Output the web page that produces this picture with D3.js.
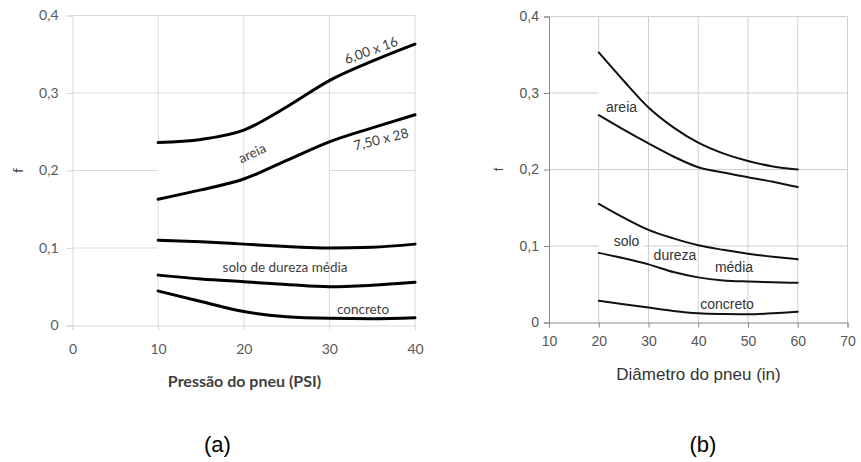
<!DOCTYPE html>
<html><head><meta charset="utf-8">
<script src="https://cdn.jsdelivr.net/npm/d3@7"></script>
<style>body{margin:0;background:#fff}svg{display:block}</style>
</head><body>
<svg id="c" width="861" height="462"></svg>
<script>
// ---- Chart (a) data ----
const pressX = [10, 15, 20, 25, 30, 35, 40];
const a_areia600x16 = [0.236, 0.240, 0.252, 0.282, 0.316, 0.341, 0.363];
const a_areia750x28 = [0.163, 0.175, 0.189, 0.213, 0.237, 0.255, 0.272];
const a_soloTop = [0.110, 0.108, 0.105, 0.102, 0.100, 0.101, 0.105];
const a_soloBottom = [0.065, 0.060, 0.0565, 0.053, 0.050, 0.052, 0.0557];
const a_concreto = [0.0445, 0.031, 0.018, 0.0114, 0.0093, 0.0088, 0.010];
const aXTicks = [0, 10, 20, 30, 40];
const yTicks = [0, 0.1, 0.2, 0.3, 0.4];

// ---- Chart (b) data ----
const diamX = [20, 25, 30, 35, 40, 45, 50, 55, 60];
const b_areiaTop = [0.353, 0.316, 0.281, 0.255, 0.235, 0.221, 0.211, 0.204, 0.200];
const b_areiaBottom = [0.271, 0.252, 0.234, 0.217, 0.203, 0.196, 0.190, 0.184, 0.177];
const b_soloTop = [0.155, 0.137, 0.121, 0.110, 0.101, 0.095, 0.090, 0.086, 0.0826];
const b_soloBottom = [0.091, 0.084, 0.076, 0.066, 0.059, 0.055, 0.0535, 0.0525, 0.052];
const b_concreto = [0.0285, 0.024, 0.0195, 0.015, 0.012, 0.011, 0.0107, 0.012, 0.014];
const bXTicks = [10, 20, 30, 40, 50, 60, 70];

// gridline segments (data units) – parts hidden behind the original's label patches
const aHGrid = [[0.1, 0, 10], [0.2, 0, 10], [0.2, 30, 40], [0.3, 0, 40], [0.4, 0, 40]];
const aVGrid = [[10, 0, 0.065], [10, 0.11, 0.163], [10, 0.236, 0.4], [20, 0, 0.4], [30, 0, 0.4], [40, 0, 0.4]];
const bHGrid = [[0.1, 10, 20], [0.1, 29, 70], [0.2, 10, 70], [0.3, 10, 20], [0.3, 29.5, 70], [0.4, 10, 70]];
const bVGrid = [[20, 0, 0.091], [20, 0.155, 0.271], [20, 0.353, 0.4], [30, 0, 0.4], [40, 0, 0.4], [50, 0, 0.4], [60, 0, 0.4], [70, 0, 0.4]];

const svg = d3.select("#c");

// ================= Chart (a) =================
(function(){
  const fa = "Lato, 'Open Sans', sans-serif";
  const x = d3.scaleLinear().domain([0, 40]).range([72.5, 415]);
  const y = d3.scaleLinear().domain([0, 0.4]).range([325.5, 15.5]);
  const g = svg.append("g");
  const grid = "#d9d9d9";
  g.selectAll(".hg").data(aHGrid).join("line")
    .attr("x1", d => x(d[1])).attr("x2", d => x(d[2]))
    .attr("y1", d => y(d[0])).attr("y2", d => y(d[0]))
    .attr("stroke", grid).attr("stroke-width", 1);
  g.selectAll(".vg").data(aVGrid).join("line")
    .attr("x1", d => x(d[0])).attr("x2", d => x(d[0]))
    .attr("y1", d => y(d[1])).attr("y2", d => y(d[2]))
    .attr("stroke", grid).attr("stroke-width", 1);
  const yAx = g.append("g").attr("transform", `translate(${x(0)},0)`)
    .call(d3.axisLeft(y).tickValues(yTicks).tickSize(6).tickPadding(8)
      .tickFormat(d => d === 0 ? "0" : d3.format(".1f")(d).replace(".", ",")));
  const xAx = g.append("g").attr("transform", `translate(0,${y(0)})`)
    .call(d3.axisBottom(x).tickValues(aXTicks).tickSize(5).tickPadding(14));
  [yAx, xAx].forEach(a => {
    a.select(".domain").attr("stroke", grid);
    a.selectAll(".tick line").attr("stroke", grid);
    a.selectAll("text").attr("fill", "#595959").style("font-family", fa).style("font-size", "14px");
  });
  const line = d3.line().x(d => x(d[0])).y(d => y(d[1])).curve(d3.curveMonotoneX);
  [a_areia600x16, a_areia750x28, a_soloTop, a_soloBottom, a_concreto].forEach(s => {
    g.append("path").datum(pressX.map((v, i) => [v, s[i]])).attr("d", line)
      .attr("fill", "none").attr("stroke", "#000").attr("stroke-width", 3).attr("stroke-linecap", "round");
  });
  const lbl = (t, cx, cy, rot) => g.append("text").attr("transform", `translate(${cx},${cy}) rotate(${rot})`)
    .attr("text-anchor", "middle").attr("dominant-baseline", "central")
    .style("font-family", fa).style("font-size", "13.5px").attr("fill", "#404040").text(t);
  lbl("6,00 x 16", 371, 50, -20);
  lbl("7,50 x 28", 381, 139, -14);
  lbl("areia", 252, 153, -25);
  lbl("solo de dureza média", 285, 266.5, 0);
  lbl("concreto", 363, 309, 0);
  g.append("text").attr("x", 244.5).attr("y", 387).attr("text-anchor", "middle")
    .style("font-family", fa).style("font-size", "16px").style("font-weight", "bold")
    .attr("fill", "#404040").text("Pressão do pneu (PSI)");
  g.append("text").attr("transform", `translate(17,${y(0.2)}) rotate(-90)`)
    .attr("text-anchor", "middle").attr("dominant-baseline", "central")
    .style("font-family", fa).style("font-size", "14px").attr("fill", "#404040").text("f");
})();

// ================= Chart (b) =================
(function(){
  const fb = "'Liberation Sans', Arial, sans-serif";
  const x = d3.scaleLinear().domain([10, 70]).range([549, 847.5]);
  const y = d3.scaleLinear().domain([0, 0.4]).range([322.5, 16.5]);
  const g = svg.append("g");
  const grid = "#cfcfcf";
  g.selectAll(".hg").data(bHGrid).join("line")
    .attr("x1", d => x(d[1])).attr("x2", d => x(d[2]))
    .attr("y1", d => y(d[0])).attr("y2", d => y(d[0]))
    .attr("stroke", grid).attr("stroke-width", 1);
  g.selectAll(".vg").data(bVGrid).join("line")
    .attr("x1", d => x(d[0])).attr("x2", d => x(d[0]))
    .attr("y1", d => y(d[1])).attr("y2", d => y(d[2]))
    .attr("stroke", grid).attr("stroke-width", 1);
  const yAx = g.append("g").attr("transform", `translate(${x(10)},0)`)
    .call(d3.axisLeft(y).tickValues(yTicks).tickSize(5).tickPadding(5)
      .tickFormat(d => d === 0 ? "0" : d3.format(".1f")(d).replace(".", ",")));
  const xAx = g.append("g").attr("transform", `translate(0,${y(0)})`)
    .call(d3.axisBottom(x).tickValues(bXTicks).tickSize(5).tickPadding(9));
  [yAx, xAx].forEach(a => {
    a.select(".domain").attr("stroke", "#8a8a8a");
    a.selectAll(".tick line").attr("stroke", "#8a8a8a");
    a.selectAll("text").attr("fill", "#555").style("font-family", fb).style("font-size", "14px");
  });
  const line = d3.line().x(d => x(d[0])).y(d => y(d[1])).curve(d3.curveMonotoneX);
  [b_areiaTop, b_areiaBottom, b_soloTop, b_soloBottom, b_concreto].forEach(s => {
    g.append("path").datum(diamX.map((v, i) => [v, s[i]])).attr("d", line)
      .attr("fill", "none").attr("stroke", "#111").attr("stroke-width", 2).attr("stroke-linecap", "round");
  });
  const lbl = (t, cx, cy) => g.append("text").attr("x", cx).attr("y", cy)
    .attr("text-anchor", "middle").attr("dominant-baseline", "central")
    .style("font-family", fb).style("font-size", "14px").attr("fill", "#333").text(t);
  lbl("areia", 621.5, 106.5);
  lbl("solo", 626.5, 240.5);
  lbl("dureza", 675, 254.5);
  lbl("média", 734, 266.5);
  lbl("concreto", 727, 304);
  g.append("text").attr("x", 698.5).attr("y", 380).attr("text-anchor", "middle")
    .style("font-family", fb).style("font-size", "17px").attr("fill", "#333").text("Diâmetro do pneu (in)");
  g.append("text").attr("transform", `translate(498,${y(0.2)}) rotate(-90)`)
    .attr("text-anchor", "middle").attr("dominant-baseline", "central")
    .style("font-family", fb).style("font-size", "13px").attr("fill", "#444").text("f");
})();

// captions
const capFont = "'Liberation Sans', Arial, sans-serif";
svg.append("text").attr("x", 217.5).attr("y", 452).attr("text-anchor", "middle")
  .style("font-family", capFont).style("font-size", "22px").attr("fill", "#000").text("(a)");
svg.append("text").attr("x", 703).attr("y", 452).attr("text-anchor", "middle")
  .style("font-family", capFont).style("font-size", "22px").attr("fill", "#000").text("(b)");
</script>
</body></html>
